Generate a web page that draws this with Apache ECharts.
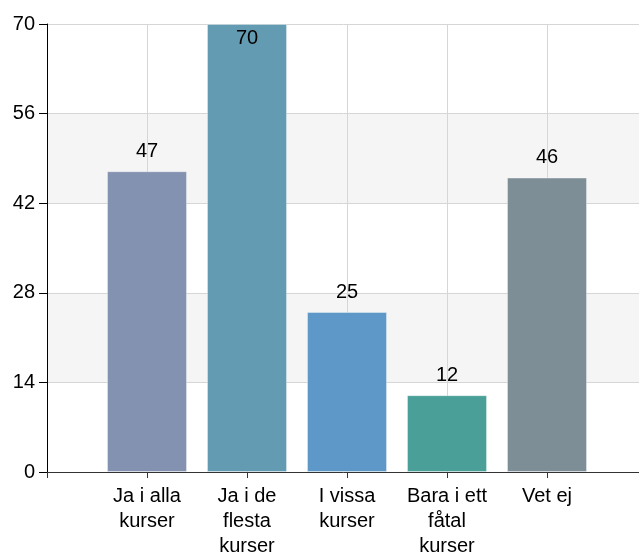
<!DOCTYPE html>
<html>
<head>
<meta charset="utf-8">
<script src="https://cdn.jsdelivr.net/npm/echarts@6/dist/echarts.min.js"></script>
<style>
  html, body { margin: 0; padding: 0; background: #fff; }
  #chart { width: 639px; height: 554px; }
</style>
</head>
<body>
<div id="chart"></div>
<script>
const categories = [
  "Ja i alla\nkurser",
  "Ja i de\nflesta\nkurser",
  "I vissa\nkurser",
  "Bara i ett\nfåtal\nkurser",
  "Vet ej",
]
const values = [47, 70, 25, 12, 46]
const yTicks = { min: 0, max: 70, interval: 14 }

const barColors = ["#8492b2", "#639cb2", "#5d98c8", "#4a9f98", "#7e8e97"]
const font = "Liberation Sans, Arial, sans-serif"

// empty slot before and after so bars sit one step in from the axis
const axisData = ["", ...categories, ""]
const seriesData = [
  "-",
  ...values.map((v, i) => ({
    value: v,
    itemStyle: { color: barColors[i] },
    label: v >= yTicks.max ? { position: "insideTop", distance: 4 } : undefined,
  })),
  "-",
]

const chart = echarts.init(document.getElementById("chart"))

chart.setOption({
  animation: false,
  grid: {
    left: 47,
    top: 24,
    width: 600,
    height: 448,
    containLabel: false,
    outerBoundsMode: "none",
  },
  xAxis: {
    type: "category",
    data: axisData,
    boundaryGap: false,
    axisLine: { lineStyle: { color: "#333", width: 1 } },
    axisTick: { show: true, length: 6, lineStyle: { color: "#333" } },
    axisLabel: {
      color: "#000",
      fontFamily: font,
      fontSize: 20,
      lineHeight: 25,
      margin: 12,
      interval: 0,
    },
    splitLine: { show: true, lineStyle: { color: "#d6d6d6", width: 1 } },
  },
  yAxis: {
    type: "value",
    min: yTicks.min,
    max: yTicks.max,
    interval: yTicks.interval,
    axisLine: { show: true, lineStyle: { color: "#000", width: 1 } },
    axisTick: { show: true, length: 8, lineStyle: { color: "#000" } },
    axisLabel: {
      color: "#000",
      fontFamily: font,
      fontSize: 20,
      margin: 12,
    },
    splitLine: { show: true, lineStyle: { color: "#d6d6d6", width: 1 } },
    splitArea: {
      show: true,
      areaStyle: { color: ["#ffffff", "#f5f5f5"] },
    },
  },
  series: [
    {
      type: "bar",
      data: seriesData,
      barWidth: 80,
      itemStyle: { borderColor: "rgba(255,255,255,0.35)", borderWidth: 1 },
      label: {
        show: true,
        position: "top",
        distance: 10,
        color: "#000",
        fontFamily: font,
        fontSize: 20,
      },
    },
  ],
})
</script>
</body>
</html>
